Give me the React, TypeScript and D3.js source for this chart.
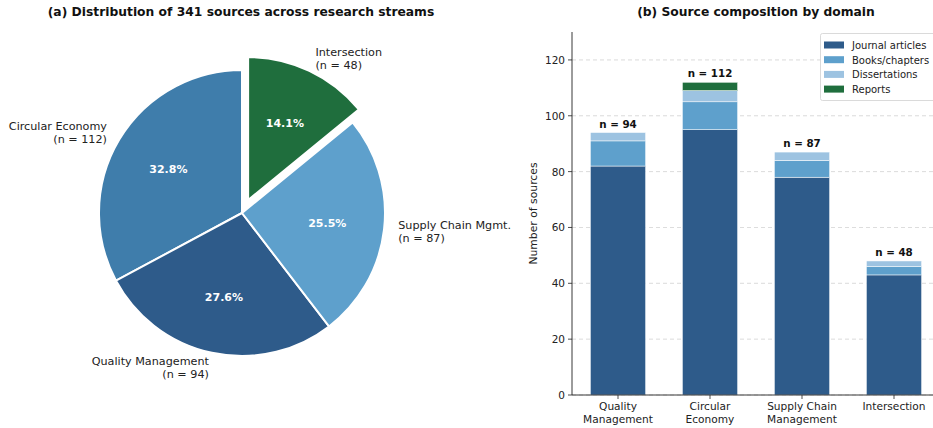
import React from "react";
import * as d3 from "d3";

const streams = ["Circular Economy", "Quality Management", "Supply Chain Mgmt.", "Intersection"];
const streamCounts = [112, 94, 87, 48];
const streamColors = ["#3f7dab", "#2e5b8a", "#5ea0cc", "#1f6e3d"];
const explode = [0, 0, 0, 0.1];

const domains = [["Quality", "Management"], ["Circular", "Economy"], ["Supply Chain", "Management"], ["Intersection"]];
const domainTotals = [94, 112, 87, 48];
const sourceTypes = ["Journal articles", "Books/chapters", "Dissertations", "Reports"];
const journal = [82, 95, 78, 43];
const books = [9, 10, 6, 3];
const dissertations = [3, 4, 3, 2];
const reports = [0, 3, 0, 0];
const typeColors = ["#2e5b8a", "#5ea0cc", "#9dc3e1", "#1f6e3d"];
const yTicks = [0, 20, 40, 60, 80, 100, 120];

const FONT = "DejaVu Sans, sans-serif";

export default function App() {
  const W = 933, H = 428;
  // Pie
  const cx = 242, cy = 213, R = 143;
  const total = d3.sum(streamCounts);
  const pie = d3.pie<number>().sort(null).startAngle(0).endAngle(-2 * Math.PI);
  const arcs = pie(streamCounts);
  const arc = d3.arc<d3.PieArcDatum<number>>().innerRadius(0).outerRadius(R);

  // Bars
  const left = 572, right = 940, top = 32, bottom = 395;
  const x = d3.scaleBand<number>().domain([0, 1, 2, 3]).range([left, right]).paddingInner(0.4).paddingOuter(0.2);
  const y = d3.scaleLinear().domain([0, 130]).range([bottom, top]);
  const stackData = domainTotals.map((_, i) => ({ i, j: journal[i], b: books[i], d: dissertations[i], r: reports[i] }));
  const stack = d3.stack<any>().keys(["j", "b", "d", "r"]);
  const stacked = stack(stackData);

  return (
    <svg width={W} height={H} style={{ position: "absolute", left: 0, top: 0, background: "#fff" }} fontFamily={FONT}>
      {/* Pie title */}
      <text x={241} y={16} textAnchor="middle" fontSize={12.3} fontWeight="bold" fill="#111">
        (a) Distribution of 341 sources across research streams
      </text>
      {arcs.map((a, i) => {
        const mid = (a.startAngle + a.endAngle) / 2;
        const off = explode[i] * R;
        const ox = cx + Math.sin(mid) * off;
        const oy = cy - Math.cos(mid) * off;
        const lx = ox + Math.sin(mid) * R * 1.1;
        const ly = oy - Math.cos(mid) * R * 1.1;
        const px = ox + Math.sin(mid) * R * 0.6;
        const py = oy - Math.cos(mid) * R * 0.6;
        const anchor = Math.sin(mid) > 0 ? "start" : "end";
        return (
          <g key={i}>
            <path d={arc(a) || ""} transform={`translate(${ox},${oy})`} fill={streamColors[i]} stroke="#fff" strokeWidth={2} strokeLinejoin="round" />
            <text x={px} y={py + 4} textAnchor="middle" fontSize={11} fontWeight="bold" fill="#fff">
              {((streamCounts[i] / total) * 100).toFixed(1)}%
            </text>
            <text x={lx} y={ly - 2} textAnchor={anchor} fontSize={11.2} fill="#222">
              {streams[i]}
            </text>
            <text x={lx} y={ly + 11} textAnchor={anchor} fontSize={11.2} fill="#222">
              (n = {streamCounts[i]})
            </text>
          </g>
        );
      })}

      {/* Bar chart */}
      <text x={(left + right) / 2} y={16} textAnchor="middle" fontSize={12.3} fontWeight="bold" fill="#111">
        (b) Source composition by domain
      </text>
      {yTicks.map((t) => (
        <g key={t}>
          <line x1={left} x2={right} y1={y(t)} y2={y(t)} stroke="#c8c8c8" strokeWidth={0.8} strokeDasharray="4,3" opacity={0.8} />
          <line x1={left - 4} x2={left} y1={y(t)} y2={y(t)} stroke="#222" strokeWidth={0.8} />
          <text x={left - 7} y={y(t) + 4} textAnchor="end" fontSize={10.5} fill="#222">{t}</text>
        </g>
      ))}
      {stacked.map((s, k) => (
        <g key={k}>
          {s.map((d, i) => (d[1] - d[0] > 0 ? (
            <rect key={i} x={x(i)} width={x.bandwidth()} y={y(d[1])} height={y(d[0]) - y(d[1])} fill={typeColors[k]} stroke="#fff" strokeWidth={0.5} />
          ) : null))}
        </g>
      ))}
      {domainTotals.map((t, i) => (
        <text key={i} x={(x(i) || 0) + x.bandwidth() / 2} y={y(t) - 5} textAnchor="middle" fontSize={10.3} fontWeight="bold" fill="#111">
          n = {t}
        </text>
      ))}
      <line x1={left} x2={left} y1={top} y2={bottom} stroke="#222" strokeWidth={0.9} />
      <line x1={left} x2={right} y1={bottom} y2={bottom} stroke="#222" strokeWidth={0.9} />
      {domains.map((lines, i) => {
        const cxb = (x(i) || 0) + x.bandwidth() / 2;
        return (
          <g key={i}>
            <line x1={cxb} x2={cxb} y1={bottom} y2={bottom + 4} stroke="#222" strokeWidth={0.8} />
            {lines.map((l, j) => (
              <text key={j} x={cxb} y={bottom + 15 + j * 12.5} textAnchor="middle" fontSize={10.6} fill="#222">{l}</text>
            ))}
          </g>
        );
      })}
      <text transform={`translate(${537},${(top + bottom) / 2}) rotate(-90)`} textAnchor="middle" fontSize={10.8} fill="#222">
        Number of sources
      </text>
      {/* Legend */}
      <g>
        <rect x={820.5} y={33.5} width={118} height={67} fill="#fff" stroke="#d0d0d0" strokeWidth={0.8} rx={2} />
        {sourceTypes.map((s, k) => (
          <g key={k}>
            <rect x={824} y={41.5 + k * 14.7} width={20} height={7} fill={typeColors[k]} />
            <text x={852} y={49 + k * 14.7} fontSize={10} fill="#222">{s}</text>
          </g>
        ))}
      </g>
    </svg>
  );
}
